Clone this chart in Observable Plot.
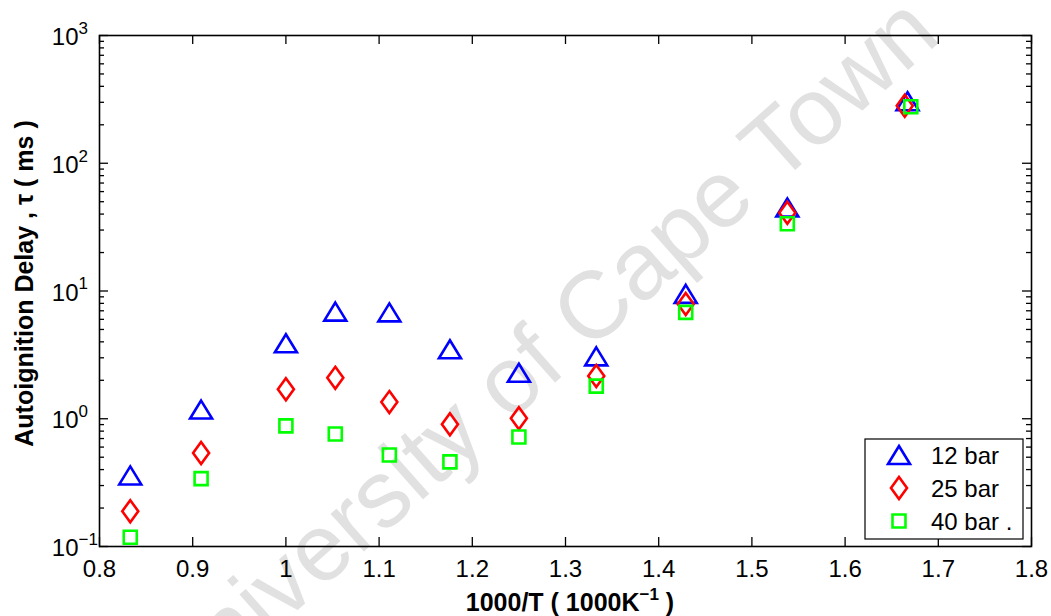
<!DOCTYPE html>
<html>
<head>
<meta charset="utf-8">
<script src="https://cdn.jsdelivr.net/npm/d3@7"></script>
<script src="https://cdn.jsdelivr.net/npm/@observablehq/plot@0.6"></script>
<style>
  body { margin: 0; background: #fff; }
  #chart { width: 1051px; height: 616px; }
</style>
</head>
<body>
<div id="chart"></div>
<script>
// Inverse temperature (1000/T) for each pressure series
const invT12 = [0.833, 0.909, 1.0, 1.053, 1.111, 1.176, 1.25, 1.333, 1.429, 1.538, 1.667];
const invT25 = [0.833, 0.909, 1.0, 1.053, 1.111, 1.176, 1.25, 1.333, 1.429, 1.538, 1.664];
const invT40 = [0.833, 0.909, 1.0, 1.053, 1.111, 1.176, 1.25, 1.333, 1.429, 1.538, 1.6705];

// Autoignition delay (ms)
const delay12 = [0.36, 1.18, 3.9, 6.9, 6.8, 3.5, 2.29, 3.08, 9.5, 45, 306];
const delay25 = [0.189, 0.54, 1.70, 2.09, 1.35, 0.905, 1.01, 2.16, 7.9, 41, 282];
const delay40 = [0.118, 0.34, 0.88, 0.76, 0.52, 0.46, 0.72, 1.80, 6.8, 33.6, 277];

const seriesNames = ["12 bar", "25 bar", "40 bar ."];

// Axis ticks
const xTicks = [0.8, 0.9, 1.0, 1.1, 1.2, 1.3, 1.4, 1.5, 1.6, 1.7, 1.8];
const xTickLabels = ["0.8", "0.9", "1", "1.1", "1.2", "1.3", "1.4", "1.5", "1.6", "1.7", "1.8"];
const yTicks = [0.1, 1, 10, 100, 1000];
const yTickExp = ["\u22121", "0", "1", "2", "3"];
const yMinor = [];
for (let e = -1; e < 3; e++) for (let k = 2; k <= 9; k++) yMinor.push(k * Math.pow(10, e));

const W = 1051, H = 616;
const mL = 99, mR = 20, mT = 35, mB = 70;
const fw = W - mL - mR, fh = H - mT - mB;
const FONT = "'Liberation Sans', Arial, Helvetica, sans-serif";

// Outline markers in the classic plotting style (centred on their bounding box)
const triangle = { draw(ctx, size) { const r = Math.sqrt(size / Math.PI);
  ctx.moveTo(0, -0.9 * r); ctx.lineTo(1.1 * r, 0.9 * r); ctx.lineTo(-1.1 * r, 0.9 * r); ctx.closePath(); } };
const diamond = { draw(ctx, size) { const r = Math.sqrt(size / Math.PI);
  ctx.moveTo(0, -1.1 * r); ctx.lineTo(0.8 * r, 0); ctx.lineTo(0, 1.1 * r); ctx.lineTo(-0.8 * r, 0); ctx.closePath(); } };
const square = { draw(ctx, size) { const r = Math.sqrt(size / Math.PI), h = 0.65 * r;
  ctx.moveTo(-h, -h); ctx.lineTo(h, -h); ctx.lineTo(h, h); ctx.lineTo(-h, h); ctx.closePath(); } };

const symbols = [triangle, diamond, square];
const colors = ["#0000ff", "#ff0000", "#00ff00"];

const rows = (xs, ys) => xs.map((x, i) => ({ x, y: ys[i] }));
const s12 = rows(invT12, delay12);
const s25 = rows(invT25, delay25);
const s40 = rows(invT40, delay40);

const dotOpts = (k) => ({ x: "x", y: "y", symbol: symbols[k], r: 10, stroke: colors[k], strokeWidth: 2.6, fill: "none" });
const tick = { stroke: "#000", strokeWidth: 1.3 };

const chart = Plot.plot({
  width: W, height: H,
  marginLeft: mL, marginRight: mR, marginTop: mT, marginBottom: mB,
  style: { fontFamily: FONT, background: "#fff", color: "#000" },
  x: { domain: [0.8, 1.8], axis: null },
  y: { type: "log", domain: [0.1, 1000], axis: null },
  marks: [
    // inward ticks on all four sides
    Plot.tickY(yTicks, { y: d => d, insetRight: fw - 9, ...tick }),
    Plot.tickY(yTicks, { y: d => d, insetLeft: fw - 9, ...tick }),
    Plot.tickY(yMinor, { y: d => d, insetRight: fw - 5, ...tick }),
    Plot.tickY(yMinor, { y: d => d, insetLeft: fw - 5, ...tick }),
    Plot.tickX(xTicks, { x: d => d, insetTop: fh - 9, ...tick }),
    Plot.tickX(xTicks, { x: d => d, insetBottom: fh - 9, ...tick }),
    // tick labels
    Plot.text(xTicks, { x: d => d, text: (d, i) => xTickLabels[i], frameAnchor: "bottom", dy: 23,
      lineAnchor: "middle", fontSize: 24, fill: "#000" }),
    Plot.text(yTicks, { y: d => d, text: () => "10", frameAnchor: "left", dx: -21, dy: 2,
      textAnchor: "end", lineAnchor: "middle", fontSize: 24, fill: "#000" }),
    Plot.text(yTicks, { y: d => d, text: (d, i) => yTickExp[i], frameAnchor: "left", dx: -21, dy: -7,
      textAnchor: "start", lineAnchor: "middle", fontSize: 17, fill: "#000" }),
    // data
    Plot.dot(s12, dotOpts(0)),
    Plot.dot(s25, dotOpts(1)),
    Plot.dot(s40, dotOpts(2)),
    Plot.frame({ stroke: "#000", strokeWidth: 1.6 })
  ]
});

document.getElementById("chart").appendChild(chart);

const svg = d3.select(chart);

// faint diagonal watermark behind the marks
svg.insert("text", ":nth-child(2)")
  .attr("transform", "translate(560,378) rotate(-41.5)")
  .attr("text-anchor", "middle")
  .attr("font-family", FONT)
  .attr("font-size", 95)
  .attr("fill", "#e1e1e1")
  .text("University of Cape Town");

// axis titles
const xt = svg.append("text")
  .attr("x", mL + fw / 2 + 5).attr("y", H - 5)
  .attr("text-anchor", "middle")
  .attr("font-family", FONT).attr("font-weight", "bold").attr("font-size", 25)
  .attr("fill", "#000");
xt.append("tspan").text("1000/T ( 1000K");
xt.append("tspan").attr("dy", -11).attr("font-size", 17).text("\u22121");
xt.append("tspan").attr("dy", 11).text(" )");

svg.append("text")
  .attr("transform", `translate(33,${mT + fh / 2 - 7}) rotate(-90)`)
  .attr("text-anchor", "middle")
  .attr("font-family", FONT).attr("font-weight", "bold").attr("font-size", 25)
  .attr("fill", "#000")
  .text("Autoignition Delay , \u03c4 ( ms )");

// legend box in the lower-right corner of the frame
const lg = svg.append("g").attr("transform", `translate(${mL + fw - 166},${mT + fh - 107})`);
lg.append("rect").attr("x", 0).attr("y", 0).attr("width", 158).attr("height", 100)
  .attr("fill", "#fff").attr("stroke", "#000").attr("stroke-width", 1.2);
seriesNames.forEach((name, i) => {
  const cy = 16 + i * 33;
  lg.append("path")
    .attr("transform", `translate(34,${cy})`)
    .attr("d", d3.symbol(symbols[i], 100 * Math.PI)())
    .attr("fill", "none").attr("stroke", colors[i]).attr("stroke-width", 2.6);
  lg.append("text").attr("x", 66).attr("y", cy + 9)
    .attr("text-anchor", "start")
    .attr("font-family", FONT).attr("font-size", 24).attr("fill", "#000")
    .text(name);
});
</script>
</body>
</html>
